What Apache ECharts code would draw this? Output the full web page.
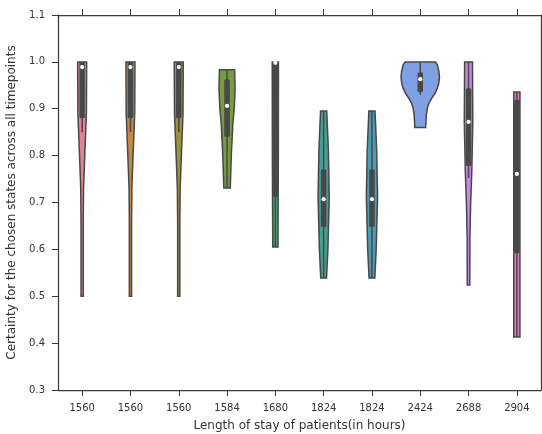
<!DOCTYPE html>
<html>
<head>
<meta charset="utf-8">
<script src="https://cdn.jsdelivr.net/npm/echarts@6/dist/echarts.min.js"></script>
<style>
html,body{margin:0;padding:0;background:#fff;}
#c{width:542px;height:434px;}
</style>
</head>
<body>
<div id="c"></div>
<script>
// ---- data ----
const categories = ['1560','1560','1560','1584','1680','1824','1824','2424','2688','2904'];
const colors = ['#e68294','#c78847','#9e9241','#759c40','#43a078','#459e97','#4a9eb4','#7fa1e3','#c789e5','#e377c4'];
// violin outlines: values (top -> bottom) and half-widths as fraction of category band
const profileValues = [
  [1.0, 0.95, 0.89, 0.80, 0.73, 0.66, 0.5],
  [1.0, 0.95, 0.89, 0.80, 0.73, 0.66, 0.5],
  [1.0, 0.95, 0.89, 0.80, 0.73, 0.66, 0.5],
  [0.983, 0.944, 0.90, 0.872, 0.80, 0.731],
  [1.0, 0.80, 0.605],
  [0.895, 0.812, 0.712, 0.60, 0.539],
  [0.895, 0.812, 0.712, 0.60, 0.539],
  [1.0, 0.993, 0.979, 0.968, 0.954, 0.944, 0.933, 0.922, 0.912, 0.901, 0.887, 0.860],
  [1.0, 0.872, 0.765, 0.695, 0.624, 0.524],
  [0.936, 0.413]
];
const profileWidths = [
  [0.093, 0.091, 0.088, 0.054, 0.029, 0.023, 0.023],
  [0.093, 0.091, 0.088, 0.054, 0.029, 0.023, 0.023],
  [0.093, 0.091, 0.088, 0.054, 0.029, 0.023, 0.023],
  [0.157, 0.167, 0.149, 0.122, 0.088, 0.067],
  [0.064, 0.062, 0.054],
  [0.064, 0.098, 0.116, 0.088, 0.060],
  [0.064, 0.098, 0.116, 0.088, 0.060],
  [0.315, 0.356, 0.387, 0.398, 0.384, 0.356, 0.305, 0.236, 0.181, 0.147, 0.126, 0.112],
  [0.081, 0.088, 0.067, 0.043, 0.029, 0.026],
  [0.064, 0.064]
];
const q1 = [0.88, 0.88, 0.88, 0.840, 0.712, 0.648, 0.648, 0.936, 0.778, 0.592];
const q3 = [1.0, 1.0, 1.0, 0.963, 1.0, 0.771, 0.771, 0.978, 0.944, 0.919];
const medians = [0.989, 0.989, 0.989, 0.906, 0.998, 0.707, 0.707, 0.963, 0.872, 0.761];
const whiskerLow = [0.85, 0.85, 0.85, 0.731, 0.605, 0.539, 0.539, 0.93, 0.752, 0.413];
const whiskerHigh = [1.0, 1.0, 1.0, 0.983, 1.0, 0.895, 0.895, 1.0, 1.0, 0.936];
const yTicks = {min: 0.3, max: 1.1, interval: 0.1};

const GRAY = '#484848';
const TEXT = '#333333';
const SPINE = '#3a3a3a';

function renderItem(params, api) {
  const i = api.value(0);
  const band = api.size([1, 0])[0];
  const cx = api.coord([i, 0])[0];
  const vals = profileValues[i], ws = profileWidths[i];
  const right = [], left = [];
  for (let k = 0; k < vals.length; k++) {
    const y = api.coord([i, vals[k]])[1];
    const hw = ws[k] * band;
    right.push([cx + hw, y]);
    left.unshift([cx - hw, y]);
  }
  const yq1 = api.coord([i, q1[i]])[1];
  const yq3 = api.coord([i, q3[i]])[1];
  const ywl = api.coord([i, whiskerLow[i]])[1];
  const ywh = api.coord([i, whiskerHigh[i]])[1];
  const ym = api.coord([i, medians[i]])[1];
  const bw = 5.5;
  return {
    type: 'group',
    children: [
      {type: 'polygon', shape: {points: right.concat(left)},
       style: {fill: colors[i], stroke: GRAY, lineWidth: 1.5, lineJoin: 'miter'}},
      {type: 'line', shape: {x1: cx, y1: ywh, x2: cx, y2: ywl},
       style: {stroke: GRAY, lineWidth: 1.5}},
      {type: 'rect', shape: {x: cx - bw / 2, y: yq3, width: bw, height: yq1 - yq3, r: 1.5},
       style: {fill: GRAY}},
      {type: 'circle', shape: {cx: cx, cy: ym, r: 2.1},
       style: {fill: '#ffffff'}}
    ]
  };
}

const chart = echarts.init(document.getElementById('c'), null, {renderer: 'canvas'});
const axisFont = {fontFamily: 'DejaVu Sans', fontSize: 10, color: TEXT};
chart.setOption({
  animation: false,
  backgroundColor: '#ffffff',
  grid: {left: 58, right: 1, top: 15, bottom: 44, containLabel: false, outerBoundsMode: 'none'},
  xAxis: [
    {
      type: 'category', data: categories, position: 'bottom',
      boundaryGap: true,
      axisLine: {show: true, lineStyle: {color: SPINE, width: 1.25}},
      axisTick: {show: true, alignWithLabel: true, length: 6, lineStyle: {color: SPINE, width: 1}},
      axisLabel: Object.assign({margin: 13, interval: 0}, axisFont),
      splitLine: {show: false},
      name: 'Length of stay of patients(in hours)',
      nameLocation: 'middle', nameGap: 30,
      nameTextStyle: {fontFamily: 'DejaVu Sans', fontSize: 12, color: TEXT}
    },
    {
      type: 'category', data: categories, position: 'top',
      boundaryGap: true,
      axisLine: {show: true, lineStyle: {color: SPINE, width: 1.25}},
      axisTick: {show: true, alignWithLabel: true, length: 6, lineStyle: {color: SPINE, width: 1}},
      axisLabel: {show: false},
      splitLine: {show: false}
    }
  ],
  yAxis: [
    {
      type: 'value', min: yTicks.min, max: yTicks.max, interval: yTicks.interval,
      position: 'left',
      axisLine: {show: true, lineStyle: {color: SPINE, width: 1.25}},
      axisTick: {show: true, length: 6, lineStyle: {color: SPINE, width: 1}},
      axisLabel: Object.assign({margin: 13, formatter: v => v.toFixed(1)}, axisFont),
      splitLine: {show: false},
      name: 'Certainty for the chosen states across all timepoints',
      nameLocation: 'middle', nameGap: 33, nameRotate: 90,
      nameTextStyle: {fontFamily: 'DejaVu Sans', fontSize: 12, color: TEXT}
    },
    {
      type: 'value', min: yTicks.min, max: yTicks.max, interval: yTicks.interval,
      position: 'right',
      axisLine: {show: true, lineStyle: {color: SPINE, width: 1.25}},
      axisTick: {show: false}, axisLabel: {show: false}, splitLine: {show: false}
    }
  ],
  series: [{
    type: 'custom',
    renderItem: renderItem,
    xAxisIndex: 0, yAxisIndex: 0,
    encode: {x: 0, y: 1},
    data: categories.map((c, i) => [i, medians[i]]),
    clip: false
  }]
});
</script>
</body>
</html>
